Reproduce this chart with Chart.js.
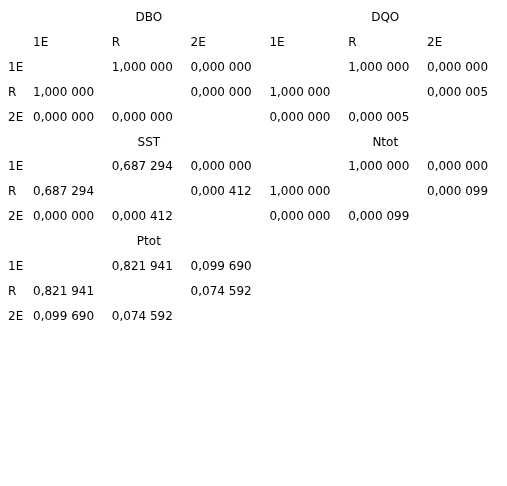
<!DOCTYPE html>
<html>
<head>
<meta charset="utf-8">
<script src="https://cdn.jsdelivr.net/npm/chart.js@4"></script>
<style>
  body { margin: 0; background: #fff; }
  #wrap { width: 507px; height: 486px; }
</style>
</head>
<body>
<div id="wrap"><canvas id="tbl"></canvas></div>
<script>
// groups of the two stations
const groups = ['1E', 'R', '2E'];
const titles = ['DBO', 'DQO', 'SST', 'Ntot', 'Ptot'];

// correlation matrices (null = diagonal, left blank)
const dbo = [[null, 1.000000, 0.000000], [1.000000, null, 0.000000], [0.000000, 0.000000, null]];
const dqo = [[null, 1.000000, 0.000000], [1.000000, null, 0.000005], [0.000000, 0.000005, null]];
const sst = [[null, 0.687294, 0.000000], [0.687294, null, 0.000412], [0.000000, 0.000412, null]];
const ntot = [[null, 1.000000, 0.000000], [1.000000, null, 0.000099], [0.000000, 0.000099, null]];
const ptot = [[null, 0.821941, 0.099690], [0.821941, null, 0.074592], [0.099690, 0.074592, null]];
const matrices = [dbo, dqo, sst, ntot, ptot];

// where each block sits: column offset, row of its title, has header row
const blocks = [
  { col: 1, row: 0, header: true },
  { col: 4, row: 0, header: true },
  { col: 1, row: 5, header: false },
  { col: 4, row: 5, header: false },
  { col: 1, row: 9, header: false }
];

function fmt(v) {
  const s = v.toFixed(6).replace('.', ',');
  return s.slice(0, s.length - 3) + ' ' + s.slice(s.length - 3);
}

const tablePlugin = {
  id: 'tablePlugin',
  afterDraw(chart) {
    const ctx = chart.ctx;
    const xs = chart.scales.x, ys = chart.scales.y;
    ctx.save();
    ctx.font = '12px "DejaVu Sans"';
    ctx.fillStyle = '#000';
    ctx.textBaseline = 'middle';
    const put = (t, c, r, align) => {
      ctx.textAlign = align || 'left';
      ctx.fillText(t, xs.getPixelForValue(c), ys.getPixelForValue(r));
    };
    blocks.forEach((b, i) => {
      put(titles[i], b.col + 1.47, b.row, 'center');
      let r = b.row + 1;
      if (b.header) {
        groups.forEach((g, j) => put(g, b.col + j, r));
        r++;
      }
      matrices[i].forEach((rowVals, k) => {
        if (b.col === 1) put(groups[k], 0.683, r + k);
        rowVals.forEach((v, j) => { if (v !== null) put(fmt(v), b.col + j, r + k); });
      });
    });
    ctx.restore();
  }
};

new Chart(document.getElementById('tbl'), {
  type: 'scatter',
  data: { datasets: [] },
  options: {
    responsive: true,
    maintainAspectRatio: false,
    animation: false,
    layout: { padding: 0 },
    scales: {
      x: { display: false, min: 0.581, max: 7.015 },
      y: { display: false, min: -0.723, max: 18.8, reverse: true }
    },
    plugins: { legend: { display: false }, tooltip: { enabled: false } }
  },
  plugins: [tablePlugin]
});
</script>
</body>
</html>
